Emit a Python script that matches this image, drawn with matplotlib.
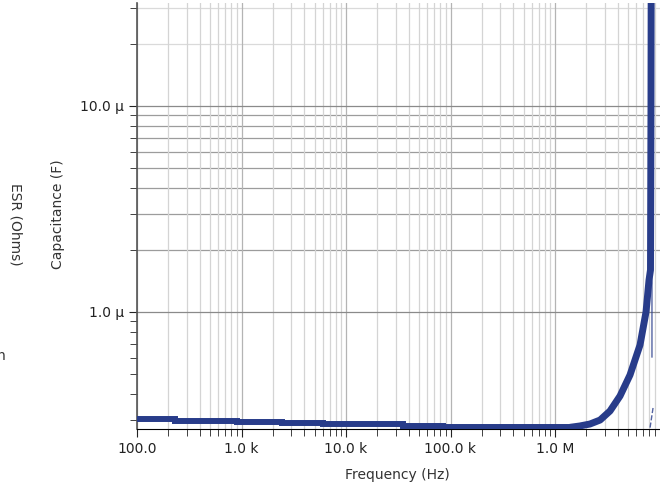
import numpy as np
import matplotlib
matplotlib.use("Agg")
import matplotlib.pyplot as plt
from matplotlib.ticker import FixedLocator, LogLocator, NullFormatter

# capacitance sweep (Hz, F)
# flat, quantized part (drawn as steps)
step_freq = [100, 231, 906, 2443, 6026, 14550, 35100, 84700, 191000, 1.39e6]
step_cap = [0.3007e-6, 0.2967e-6, 0.2940e-6, 0.2907e-6, 0.2875e-6, 0.2844e-6,
            0.2805e-6, 0.2780e-6, 0.2755e-6, 0.2755e-6]
# rise towards self-resonance
rise_freq = [1.39e6, 1.73e6, 2.16e6, 2.70e6, 3.36e6, 4.19e6, 5.22e6, 6.51e6,
             7.43e6, 7.94e6, 8.20e6, 8.29e6, 8.35e6]
rise_cap = [0.2755e-6, 0.2797e-6, 0.2859e-6, 0.2989e-6, 0.3307e-6, 0.3910e-6,
            0.4945e-6, 0.6916e-6, 1.0e-6, 1.43e-6, 1.6e-6, 1.0e-5, 1.0e-4]

# thin trace near the resonance
thin_freq = [8.29e6, 8.47e6, 8.47e6]
thin_cap = [1.6e-6, 1.38e-6, 0.605e-6]
tail_freq = [8.67e6, 8.11e6]
tail_cap = [0.342e-6, 0.273e-6]

xtick_vals = [1e2, 1e3, 1e4, 1e5, 1e6]
xtick_labels = ["100.0", "1.0 k", "10.0 k", "100.0 k", "1.0 M"]
ytick_vals = [1e-6, 1e-5]
ytick_labels = ["1.0 µ", "10.0 µ"]

fig = plt.figure(figsize=(6.6, 4.88), dpi=100)
ax = fig.add_axes([137/660, 1 - 429/488, 522.5/660, 426/488])

blue = "#283c8a"
ax.plot(step_freq, step_cap, color=blue, lw=4.3, drawstyle="steps-post",
        solid_joinstyle="miter", zorder=3)
ax.plot(rise_freq, rise_cap, color=blue, lw=5, solid_joinstyle="round",
        solid_capstyle="butt", zorder=3)
ax.plot(thin_freq, thin_cap, color=blue, lw=1.0, alpha=0.8, zorder=3)
ax.plot(tail_freq, tail_cap, color=blue, lw=1.0, ls="--", alpha=0.8, zorder=3)

ax.set_xscale("log")
ax.set_yscale("log")
ax.set_xlim(100, 1e7)
ax.set_ylim(0.2704e-6, 10**-4.5)

ax.xaxis.set_major_locator(FixedLocator(xtick_vals))
ax.set_xticklabels(xtick_labels)
ax.xaxis.set_minor_locator(LogLocator(base=10, subs=np.arange(2, 10)))
ax.xaxis.set_minor_formatter(NullFormatter())
ax.yaxis.set_major_locator(FixedLocator(ytick_vals))
ax.set_yticklabels(ytick_labels)
ax.yaxis.set_minor_locator(LogLocator(base=10, subs=np.arange(2, 10)))
ax.yaxis.set_minor_formatter(NullFormatter())

ax.grid(True, which="major", axis="x", color="#b4b4b4", lw=0.9)
ax.grid(True, which="minor", axis="x", color="#d4d4d4", lw=0.9)
ax.grid(True, which="major", axis="y", color="#8a8a8a", lw=0.9)
# horizontal minor lines only from 1 µ upward, fainter above 10 µ
for v in np.arange(2, 10) * 1e-6:
    ax.axhline(v, color="#9c9c9c", lw=0.9, zorder=0.5)
for v in [2e-5, 3e-5]:
    ax.axhline(v, color="#dadada", lw=0.9, zorder=0.5)

for s in ["top", "right"]:
    ax.spines[s].set_visible(False)
ax.spines["bottom"].set_color("black")
ax.spines["left"].set_color("#555555")
ax.spines["left"].set_linewidth(1.2)

ax.tick_params(which="both", direction="out", labelsize=10, colors="#222222")
ax.tick_params(which="major", length=6)
ax.tick_params(which="minor", length=5)

fig.text(397/660, 1 - 475/488, "Frequency (Hz)", ha="center", va="center",
         fontsize=10, color="#333333")
fig.text(58/660, 1 - 214/488, "Capacitance (F)", ha="center", va="center",
         rotation=90, fontsize=10, color="#333333")
fig.text(15/660, 1 - 224/488, "ESR (Ohms)", ha="center", va="center",
         rotation=270, fontsize=10, color="#333333")
fig.text(6/660, 1 - 356/488, "n", ha="right", va="center",
         fontsize=10, color="#333333")

fig.savefig("out.png", dpi=100)
